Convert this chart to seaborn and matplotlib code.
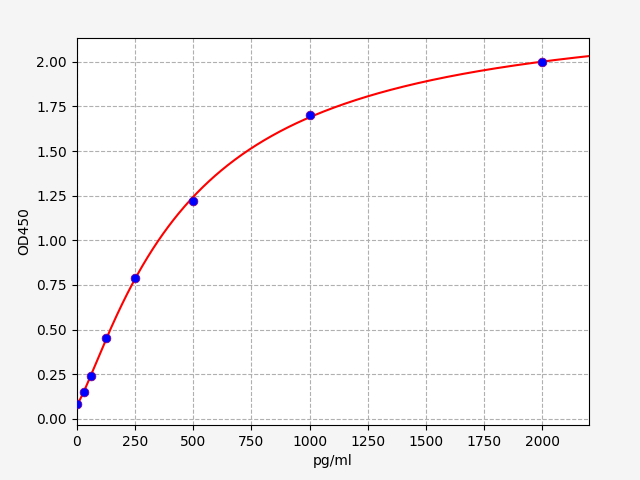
import numpy as np
import matplotlib
matplotlib.use("Agg")
import matplotlib.pyplot as plt
import seaborn as sns

conc = [0, 31.25, 62.5, 125, 250, 500, 1000, 2000]
od = [0.08, 0.15, 0.24, 0.45, 0.79, 1.22, 1.70, 2.00]

# 4PL fit by coarse grid search
x = np.array(conc)
y = np.array(od)
best = None
for b in np.linspace(0.8, 1.6, 41):
    for c in np.linspace(300, 1000, 71):
        for d in np.linspace(2.0, 3.0, 51):
            a = y[0]
            pred = d + (a - d) / (1 + (x / c) ** b)
            err = ((pred - y) ** 2).sum()
            if best is None or err < best[0]:
                best = (err, a, b, c, d)
_, a, b, c, d = best
xs = np.linspace(0, 2200, 500)
ys = d + (a - d) / (1 + (xs / c) ** b)

fig, ax = plt.subplots(figsize=(6.4, 4.8), dpi=100)
fig.subplots_adjust(left=0.12, right=0.92, top=0.921, bottom=0.115)
fig.patch.set_facecolor("#f5f5f5")
sns.lineplot(x=xs, y=ys, color="red", ax=ax, zorder=2)
sns.scatterplot(x=conc, y=od, color="blue", s=40, edgecolor="purple", ax=ax, zorder=3)
ax.set_xlim(0, 2200)
ax.set_ylim(-0.034, 2.134)
ax.set_yticks(np.arange(0, 2.01, 0.25))
ax.grid(True, linestyle="--", color="#b0b0b0")
ax.set_axisbelow(True)
ax.set_xlabel("pg/ml")
ax.set_ylabel("OD450")
fig.savefig("out.png")
